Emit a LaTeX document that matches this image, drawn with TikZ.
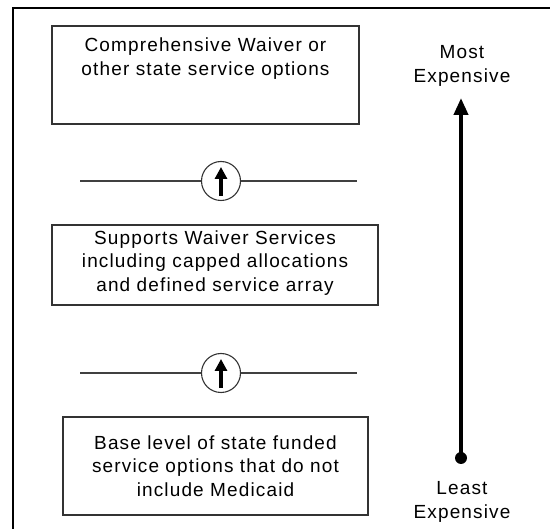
\documentclass[tikz,border=0pt]{standalone}
\usepackage{fontspec}
\setmainfont{Liberation Sans}[LetterSpace=6]
\usetikzlibrary{arrows.meta,positioning}
\begin{document}
\begin{tikzpicture}[x=1pt,y=-1pt,
  every node/.style={font=\fontsize{19}{23.5}\selectfont, text=black},
  box/.style={draw=black!80, line width=1.3pt, rectangle, inner sep=0pt},
  txt/.style={align=center, inner sep=0pt},
  ring/.style={draw=black!80, line width=1.1pt, circle, minimum size=39pt, inner sep=0pt},
  link/.style={draw=black!75, line width=1.3pt},
  frame/.style={line width=2.6pt, black},
  bigarrow/.style={line width=4pt, -{Triangle[length=17pt,width=14pt]}},
  smallarrow/.style={line width=4.2pt, -{Triangle[length=12pt,width=12pt]}}
]
\useasboundingbox (0,0) rectangle (550,529);
\draw[frame] (13,540) -- (13,8) -- (560,8);

% boxes
\node[box, minimum width=307pt, minimum height=98pt] (b1) at (205.5,75) {};
\node[txt, anchor=north] (t1) at (205.5,38) {Comprehensive Waiver or\\other state service options};
\node[box, minimum width=326pt, minimum height=80pt] (b2) at (215,265) {};
\node[txt] (t2) at ([yshift=2pt]b2.center) {Supports Waiver Services\\including capped allocations\\and defined service array};
\node[box, minimum width=305pt, minimum height=98pt] (b3) at (215.5,466) {};
\node[txt] (t3) at (b3.center) {Base level of state funded\\service options that do not\\include Medicaid};

% separators
\coordinate (l1a) at (80,181);
\coordinate (l1b) at (357,181);
\node[ring] (c1) at (221,181) {};
\draw[link] (l1a) -- (c1.west);
\draw[link] (c1.east) -- (l1b);
\coordinate (a1s) at ([yshift=-15pt]c1.center);
\coordinate (a1e) at ([yshift=14pt]c1.center);
\draw[smallarrow] (a1s) -- (a1e);

\coordinate (l2a) at (80,373);
\coordinate (l2b) at (357,373);
\node[ring] (c2) at (221,373) {};
\draw[link] (l2a) -- (c2.west);
\draw[link] (c2.east) -- (l2b);
\coordinate (a2s) at ([yshift=-15pt]c2.center);
\coordinate (a2e) at ([yshift=14pt]c2.center);
\draw[smallarrow] (a2s) -- (a2e);

% cost scale
\node[txt] (most) at (462,66) {Most\\Expensive};
\node[txt] (least) at (462,502) {Least\\Expensive};
\node[circle, fill=black, minimum size=12pt, inner sep=0pt] (dot) at (461,458) {};
\coordinate (tip) at (461,98);
\draw[bigarrow] (dot.center) -- (tip);
\end{tikzpicture}
\end{document}
